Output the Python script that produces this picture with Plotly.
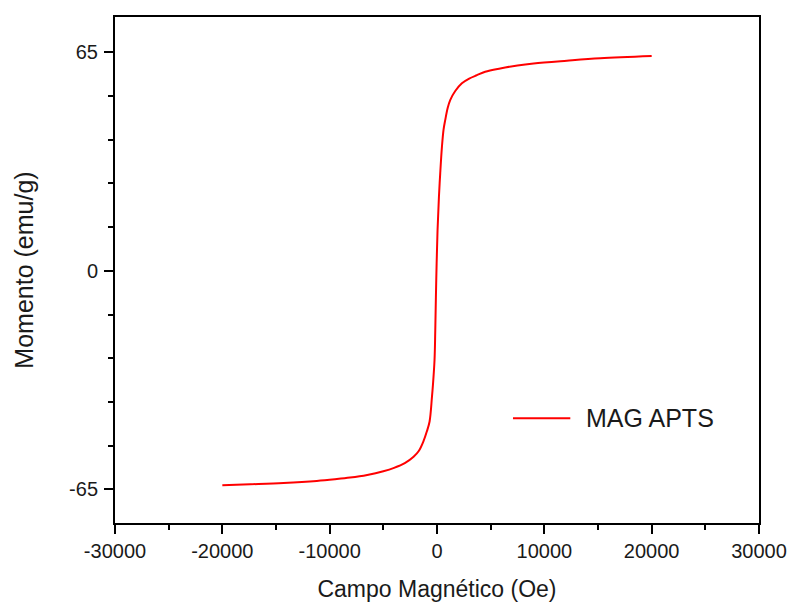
import plotly.graph_objects as go

# Magnetization curve of the MAG APTS sample
campo = [-20000, -17400, -14300, -11200, -9500, -8100, -6500, -5000, -4000,
         -3000, -2180, -1700, -1250, -950, -690, -470, -380, -230, -160,
         -70, 50, 180, 300, 460, 610, 770, 1000, 1230, 1700, 2320, 3000,
         3720, 4490, 5890, 7500, 9000, 12100, 15200, 20000]
momento = [-63.8, -63.5, -63.1, -62.5, -62.0, -61.5, -60.7, -59.6, -58.6,
           -57.2, -55.3, -53.6, -50.6, -47.8, -44.8, -37.5, -34.0, -26.5,
           -17.6, -2.7, 12.1, 22.0, 29.0, 36.9, 42.0, 44.9, 48.5, 50.8,
           53.5, 55.8, 57.2, 58.2, 59.2, 60.2, 61.1, 61.7, 62.5, 63.2, 63.9]

serie = "MAG APTS"
x_ticks = [-30000, -20000, -10000, 0, 10000, 20000, 30000]
y_ticks = [-65, 0, 65]

FONT = "Liberation Sans, Arial, sans-serif"
INK = "#1a1a1a"

fig = go.Figure()
fig.add_trace(go.Scatter(
    x=campo, y=momento, mode="lines", name=serie,
    line=dict(color="#ff0000", width=2, shape="spline", smoothing=1.0),
    showlegend=False,
))

axis_common = dict(
    showline=True, linecolor="black", linewidth=2, mirror=True,
    showgrid=False, zeroline=False, automargin=False,
    ticks="outside", ticklen=9, tickwidth=1.5, tickcolor="black",
    tickfont=dict(family=FONT, size=20, color=INK),
)

fig.update_xaxes(
    range=[-30000, 30000], tickmode="array", tickvals=x_ticks,
    ticktext=[str(v) for v in x_ticks],
    minor=dict(dtick=5000, tick0=0, ticks="outside", ticklen=5,
               tickwidth=1.5, tickcolor="black", showgrid=False),
    title=dict(text="Campo Magnético (Oe)", standoff=20,
               font=dict(family=FONT, size=23, color=INK)),
    **axis_common,
)
fig.update_yaxes(
    range=[-75.0, 75.5], tickmode="array", tickvals=y_ticks,
    ticktext=[str(v) for v in y_ticks],
    ticklabelstandoff=2,
    minor=dict(dtick=13, tick0=0, ticks="outside", ticklen=5,
               tickwidth=1.5, tickcolor="black", showgrid=False),
    title=dict(text="Momento (emu/g)", standoff=28,
               font=dict(family=FONT, size=25, color=INK)),
    **axis_common,
)

# Legend entry: sample line plus its label
fig.add_shape(type="line", xref="paper", yref="paper",
              x0=0.618, x1=0.707, y0=0.207, y1=0.207,
              line=dict(color="#ff0000", width=2))
fig.add_annotation(xref="paper", yref="paper", x=0.728, y=0.207,
                   text=serie, showarrow=False, xanchor="left",
                   yanchor="middle",
                   font=dict(family=FONT, size=25, color=INK))

fig.update_layout(
    width=790, height=604,
    margin=dict(l=115, r=31, t=17, b=81),
    paper_bgcolor="white", plot_bgcolor="white",
)

fig.write_html("out.html")
